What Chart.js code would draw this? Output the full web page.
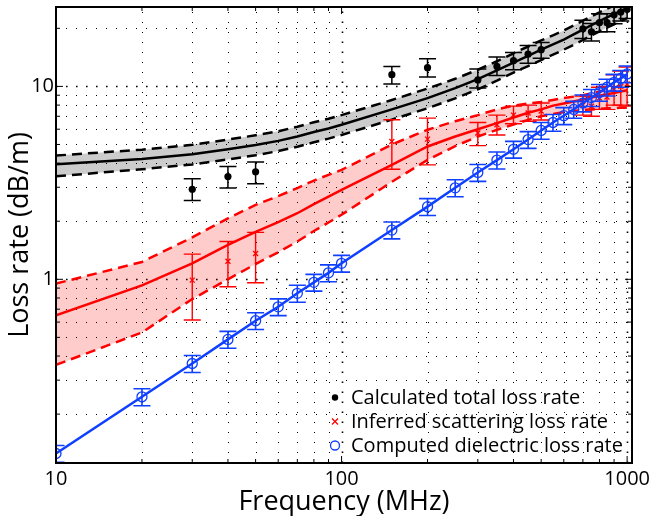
<!DOCTYPE html>
<html><head><meta charset="utf-8">
<script src="https://cdn.jsdelivr.net/npm/chart.js@4"></script>
<style>html,body{margin:0;padding:0;background:#fff}</style>
</head><body>
<canvas id="c" width="649" height="516"></canvas>
<script>
// ---- data ----
const modelFreq = [10,20,30,40,50,60,70,80,90,100,150,200,250,300,350,400,450,500,550,600,650,700,750,800,850,900,950,1000];
const dielectric = [0.125,0.246,0.366,0.488,0.61,0.72,0.846,0.964,1.08,1.21,1.80,2.38,2.98,3.58,4.15,4.72,5.3,5.91,6.5,7.05,7.6,8.2,8.75,9.3,9.9,10.5,11.0,11.6];
const dielectricErr = [0.0125,0.025,0.037,0.049,0.061,0.072,0.085,0.096,0.108,0.121,0.18,0.24,0.30,0.36,0.42,0.47,0.53,0.59,0.65,0.71,0.76,0.82,0.88,0.93,0.99,1.05,1.1,1.16];
const totalModel = [3.95,4.2,4.45,4.72,4.97,5.22,5.5,5.8,6.05,6.33,7.6,8.7,9.8,10.9,12.1,13.3,14.4,15.5,16.5,17.5,18.6,19.7,20.8,21.8,22.8,23.7,24.6,25.5];
const totalUpper = [4.38,4.7,4.98,5.3,5.58,5.85,6.18,6.52,6.8,7.1,8.5,9.75,10.95,12.2,13.5,14.85,16.1,17.3,18.4,19.5,20.7,21.9,23.1,24.2,25.3,26.3,27.3,28.3];
const totalLower = [3.42,3.72,3.94,4.18,4.4,4.62,4.87,5.13,5.36,5.6,6.73,7.7,8.67,9.65,10.7,11.8,12.75,13.7,14.6,15.5,16.45,17.4,18.4,19.3,20.2,21.0,21.8,22.6];
const scatterModel = [0.65,0.93,1.21,1.51,1.76,1.98,2.2,2.45,2.68,2.91,3.92,4.88,5.5,6.0,6.45,6.9,7.3,7.6,7.95,8.15,8.35,8.55,8.75,8.95,9.1,9.25,9.4,9.55];
const scatterUpper = [0.95,1.23,1.65,2.07,2.43,2.7,2.97,3.25,3.48,3.69,5.0,5.96,6.6,7.1,7.6,7.95,8.15,8.3,8.5,8.7,8.85,9.0,9.2,9.4,9.6,9.85,10.1,10.4];
const scatterLower = [0.36,0.53,0.79,1.0,1.2,1.38,1.57,1.78,1.97,2.16,3.2,4.16,4.9,5.5,5.95,6.35,6.7,7.0,7.2,7.35,7.45,7.55,7.6,7.65,7.7,7.72,7.75,7.75];
const measFreq = [30,40,50,150,200,300,350,400,450,500,700,750,800,850,900,950,1000];
const totalMeas   = [2.93,3.41,3.61,11.5,12.5,10.8,12.7,13.6,14.7,15.5,19.9,19.2,21.4,21.4,23.5,24.3,25.1];
const totalMeasHi = [3.32,3.84,4.06,12.7,13.9,12.3,14.2,15.0,16.3,16.9,22.0,21.2,23.8,23.8,26.1,27.0,27.9];
const totalMeasLo = [2.56,2.97,3.13,10.3,11.2,9.8,11.4,12.2,13.2,14.0,17.7,17.2,19.2,19.2,21.1,21.8,22.5];
const scatterMeas   = [0.99,1.24,1.36,5.18,5.33,5.73,6.33,7.1,7.28,7.45,8.0,7.9,8.7,8.8,9.7,10.0,10.3];
const scatterMeasHi = [1.35,1.57,1.75,6.72,6.85,6.5,7.1,7.9,8.0,8.2,8.9,8.9,9.9,10.0,11.5,12.0,12.6];
const scatterMeasLo = [0.615,0.915,0.96,3.72,3.92,4.93,5.6,6.4,6.6,6.7,7.1,7.0,7.6,7.6,8.0,8.0,7.9];
const xTickLabels = [10,100,1000];
const yTickLabels = [1,10];
const xGrid = [20,30,40,50,60,70,80,90,100,200,300,400,500,600,700,800,900,1000];
const yGrid = [0.2,0.3,0.4,0.5,0.6,0.7,0.8,0.9,1,2,3,4,5,6,7,8,9,10,20];
const legendLabels = ['Calculated total loss rate','Inferred scattering loss rate','Computed dielectric loss rate'];

const BLUE = '#0f3fff', RED = '#ff0000', BLACK = '#000000';
const FONT = '"Open Sans", "DejaVu Sans", sans-serif';
const pts = (xs, ys) => xs.map((x, i) => ({x: x, y: ys[i]}));

const datasets = [
  { label: legendLabels[2], data: pts(modelFreq, dielectric), showLine: true,
    borderColor: BLUE, borderWidth: 2.5, pointStyle: 'circle', pointRadius: 5,
    pointBorderWidth: 1.3, pointBorderColor: BLUE, pointBackgroundColor: 'rgba(0,0,0,0)',
    errHi: dielectric.map((v, i) => v + dielectricErr[i]), errLo: dielectric.map((v, i) => v - dielectricErr[i]),
    errColor: BLUE, errWidth: 1.6 },
  { label: legendLabels[1], data: pts(measFreq, scatterMeas), showLine: false,
    pointStyle: 'crossRot', pointRadius: 3.5, pointBorderWidth: 1.3, pointBorderColor: RED, borderColor: RED,
    errHi: scatterMeasHi, errLo: scatterMeasLo, errColor: RED, errWidth: 1.4 },
  { label: legendLabels[0], data: pts(measFreq, totalMeas), showLine: false,
    pointStyle: 'circle', pointRadius: 3.6, pointBorderWidth: 0, pointBackgroundColor: BLACK, borderColor: BLACK,
    errHi: totalMeasHi, errLo: totalMeasLo, errColor: BLACK, errWidth: 1.5 },
  { data: pts(modelFreq, totalModel), showLine: true, borderColor: BLACK, borderWidth: 2.5, pointRadius: 0 },
  { data: pts(modelFreq, totalUpper), showLine: true, borderColor: BLACK, borderWidth: 2.5, borderDash: [10, 6], pointRadius: 0,
    fill: '+1', backgroundColor: 'rgba(0,0,0,0.2)' },
  { data: pts(modelFreq, totalLower), showLine: true, borderColor: BLACK, borderWidth: 2.5, borderDash: [10, 6], pointRadius: 0 },
  { data: pts(modelFreq, scatterModel), showLine: true, borderColor: RED, borderWidth: 2.5, pointRadius: 0 },
  { data: pts(modelFreq, scatterUpper), showLine: true, borderColor: RED, borderWidth: 2.5, borderDash: [10, 6], pointRadius: 0,
    fill: '+1', backgroundColor: 'rgba(255,0,0,0.2)' },
  { data: pts(modelFreq, scatterLower), showLine: true, borderColor: RED, borderWidth: 2.5, borderDash: [10, 6], pointRadius: 0 }
];

const gridPlugin = {
  id: 'matlabGrid',
  beforeDraw(chart) {
    const {ctx, chartArea: a, scales: {x, y}} = chart;
    ctx.save();
    ctx.fillStyle = '#fff';
    ctx.fillRect(0, 0, chart.width, chart.height);
    ctx.strokeStyle = '#000';
    xGrid.forEach(v => {
      const px = Math.round(x.getPixelForValue(v)) + 0.5;
      if (px <= a.left + 1 || px >= a.right - 1) return;
      const major = xTickLabels.includes(v);
      ctx.lineWidth = major ? 1.6 : 1;
      ctx.setLineDash(major ? [1.6, 8.4] : [1, 9]);
      ctx.beginPath(); ctx.moveTo(px, a.bottom); ctx.lineTo(px, a.top); ctx.stroke();
    });
    yGrid.forEach(v => {
      const py = Math.round(y.getPixelForValue(v)) + 0.5;
      if (py <= a.top + 1 || py >= a.bottom - 1) return;
      const major = yTickLabels.includes(v);
      ctx.lineWidth = major ? 1.6 : 1;
      ctx.setLineDash(major ? [1.6, 8.4] : [1, 9]);
      ctx.beginPath(); ctx.moveTo(a.left, py); ctx.lineTo(a.right, py); ctx.stroke();
    });
    ctx.restore();
  }
};

const errorBarPlugin = {
  id: 'errorBars',
  afterDatasetDraw(chart, args) {
    const ds = chart.data.datasets[args.index];
    if (!ds.errHi) return;
    const {ctx, chartArea: a, scales: {x, y}} = chart;
    const cap = 8.5;
    ctx.save();
    ctx.beginPath(); ctx.rect(a.left, a.top, a.right - a.left, a.bottom - a.top); ctx.clip();
    ctx.strokeStyle = ds.errColor; ctx.lineWidth = ds.errWidth; ctx.setLineDash([]);
    ds.data.forEach((p, i) => {
      const px = x.getPixelForValue(p.x);
      const y1 = y.getPixelForValue(ds.errHi[i]);
      const y2 = y.getPixelForValue(ds.errLo[i]);
      ctx.beginPath();
      ctx.moveTo(px, y1); ctx.lineTo(px, y2);
      ctx.moveTo(px - cap, y1); ctx.lineTo(px + cap, y1);
      ctx.moveTo(px - cap, y2); ctx.lineTo(px + cap, y2);
      ctx.stroke();
    });
    ctx.restore();
  }
};

const framePlugin = {
  id: 'frameLegend',
  afterDraw(chart) {
    const {ctx, chartArea: a, scales: {x, y}} = chart;
    ctx.save();
    ctx.strokeStyle = '#000'; ctx.setLineDash([]);
    ctx.lineWidth = 1;
    xGrid.concat([10]).forEach(v => {
      const px = x.getPixelForValue(v);
      const len = xTickLabels.includes(v) ? 7 : 4;
      ctx.beginPath();
      ctx.moveTo(px, a.bottom); ctx.lineTo(px, a.bottom - len);
      ctx.moveTo(px, a.top); ctx.lineTo(px, a.top + len);
      ctx.stroke();
    });
    yGrid.forEach(v => {
      const py = y.getPixelForValue(v);
      const len = yTickLabels.includes(v) ? 7 : 4;
      ctx.beginPath();
      ctx.moveTo(a.left, py); ctx.lineTo(a.left + len, py);
      ctx.moveTo(a.right, py); ctx.lineTo(a.right - len, py);
      ctx.stroke();
    });
    ctx.lineWidth = 2;
    ctx.strokeRect(a.left, a.top, a.right - a.left, a.bottom - a.top);
    // legend (inside axes, no box)
    const rows = [397.5, 421.5, 445.5];
    const mx = 335, tx = 351;
    ctx.font = '20px ' + FONT;
    ctx.fillStyle = '#000';
    ctx.textBaseline = 'middle';
    ctx.textAlign = 'left';
    const labels = [chart.data.datasets[2].label, chart.data.datasets[1].label, chart.data.datasets[0].label];
    labels.forEach((t, i) => ctx.fillText(t, tx, rows[i] + 1));
    ctx.beginPath(); ctx.arc(mx, rows[0], 3.2, 0, Math.PI * 2); ctx.fillStyle = BLACK; ctx.fill();
    ctx.strokeStyle = RED; ctx.lineWidth = 1.3;
    ctx.beginPath();
    ctx.moveTo(mx - 3, rows[1] - 3); ctx.lineTo(mx + 3, rows[1] + 3);
    ctx.moveTo(mx - 3, rows[1] + 3); ctx.lineTo(mx + 3, rows[1] - 3);
    ctx.stroke();
    ctx.strokeStyle = BLUE; ctx.lineWidth = 1.3;
    ctx.beginPath(); ctx.arc(mx, rows[2], 4.5, 0, Math.PI * 2); ctx.stroke();
    ctx.restore();
  }
};

new Chart(document.getElementById('c'), {
  type: 'scatter',
  data: { datasets: datasets },
  plugins: [gridPlugin, errorBarPlugin, framePlugin],
  options: {
    responsive: false,
    devicePixelRatio: 1,
    animation: false,
    layout: { padding: { top: 7, right: 17, left: 0, bottom: 0 } },
    plugins: { legend: { display: false }, tooltip: { enabled: false }, filler: { drawTime: 'beforeDatasetsDraw' } },
    scales: {
      x: {
        type: 'logarithmic', min: 10, max: 1040,
        grid: { display: false, drawTicks: false }, border: { display: false },
        afterBuildTicks: s => { s.ticks = xTickLabels.map(v => ({value: v})); },
        afterFit: s => { s.height = 53; s.paddingLeft = 0; s.paddingRight = 0; },
        ticks: { autoSkip: false, maxRotation: 0, padding: 4, color: '#000',
          font: { family: FONT, size: 20 }, callback: v => String(v) },
        title: { display: true, text: 'Frequency (MHz)', color: '#000',
          font: { family: FONT, size: 27, lineHeight: 1 }, padding: { top: 0, bottom: 0 } }
      },
      y: {
        type: 'logarithmic', min: 0.1116, max: 25.8,
        grid: { display: false, drawTicks: false }, border: { display: false },
        afterBuildTicks: s => { s.ticks = yTickLabels.map(v => ({value: v})); },
        afterFit: s => { s.width = 56; s.paddingTop = 0; s.paddingBottom = 0; },
        ticks: { autoSkip: false, padding: 2, color: '#000',
          font: { family: FONT, size: 20 }, callback: v => String(v) },
        title: { display: true, text: 'Loss rate (dB/m)', color: '#000',
          font: { family: FONT, size: 27, lineHeight: 1 }, padding: { top: 7, bottom: 0 } }
      }
    }
  }
});
</script>
</body></html>
